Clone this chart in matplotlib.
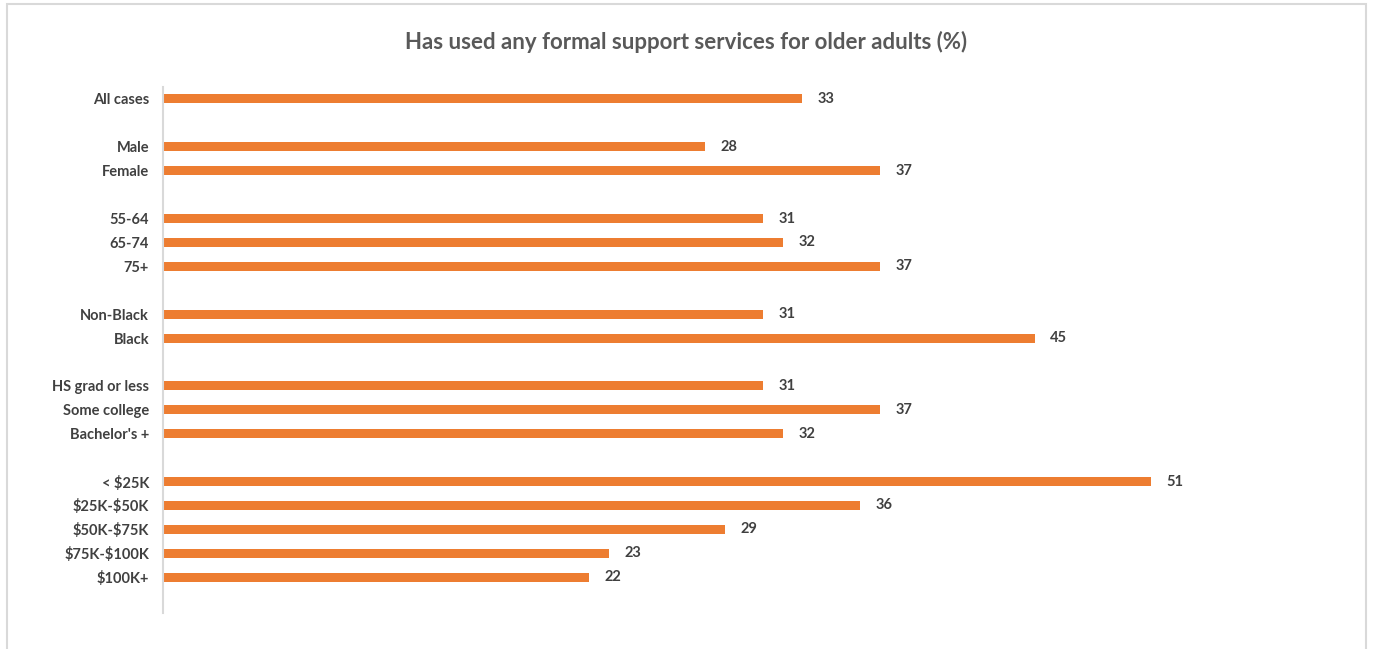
import matplotlib

matplotlib.use("Agg")
import matplotlib.pyplot as plt  # noqa: E402
from matplotlib.patches import Rectangle  # noqa: E402

# "" / None mark the blank spacer rows between groups
labels = ["All cases", "",
          "Male", "Female", "",
          "55-64", "65-74", "75+", "",
          "Non-Black", "Black", "",
          "HS grad or less", "Some college", "Bachelor's +", "",
          "< $25K", "$25K-$50K", "$50K-$75K", "$75K-$100K", "$100K+", ""]
values = [33, None,
          28, 37, None,
          31, 32, 37, None,
          31, 45, None,
          31, 37, 32, None,
          51, 36, 29, 23, 22, None]
title = "Has used any formal support services for older adults (%)"

ORANGE = "#ED7D31"
TEXT = "#404040"
W, H = 1373, 649

plt.rcParams["font.family"] = ["Lato", "DejaVu Sans"]
fig = plt.figure(figsize=(W / 100, H / 100), dpi=100)

# chart frame (bottom edge is cut off in the source)
fig.patches.append(Rectangle((7 / W, -0.1), (1366 - 7) / W, (H - 4) / H + 0.1,
                             transform=fig.transFigure, fill=False,
                             edgecolor="#D9D9D9", lw=1.5))

ax = fig.add_axes([163 / W, 1 - 613 / H, (1350 - 163) / W, 526 / H])
ys = list(range(len(labels)))
for y, v in zip(ys, values):
    if v is None:
        continue
    ax.barh(y, v, height=0.38, color=ORANGE)
    ax.text(v + 0.8, y, f"{v}", va="center", ha="left",
            fontsize=10.5, fontweight="bold", color=TEXT)

ax.set_xlim(0, (1350 - 163) / 19.37)
ax.set_ylim(len(labels) - 0.5, -0.5)
ax.set_yticks(ys)
ax.set_yticklabels(labels, fontsize=10.5, fontweight="bold", color=TEXT,
                   parse_math=False)
ax.tick_params(axis="y", length=0, pad=10)
ax.set_xticks([])
for side in ("top", "right", "bottom"):
    ax.spines[side].set_visible(False)
ax.spines["left"].set_color("#D9D9D9")
ax.spines["left"].set_linewidth(1.5)

fig.text(686 / W, 1 - 42 / H, title, ha="center", va="center",
         fontsize=16, fontweight="bold", color="#595959")

fig.savefig("out.png", dpi=100)
